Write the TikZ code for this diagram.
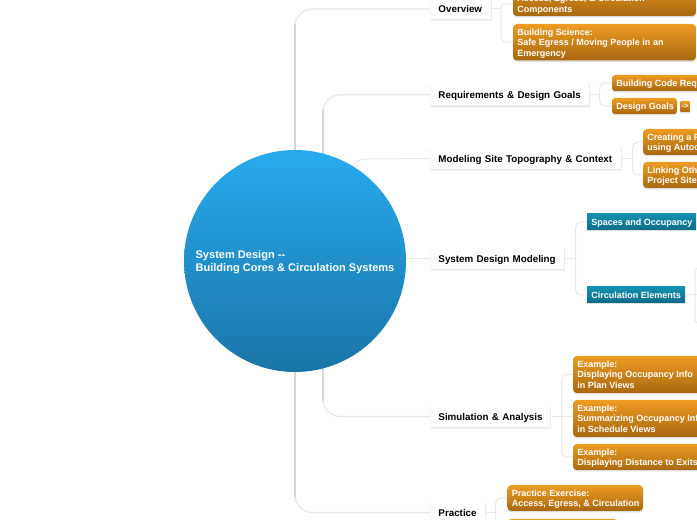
\documentclass[tikz,border=0pt]{standalone}
\usepackage{fontspec}
\setmainfont{Liberation Sans}
\usetikzlibrary{calc,backgrounds}
\definecolor{orT}{HTML}{EE9C22}
\definecolor{orB}{HTML}{A8680F}
\definecolor{teT}{HTML}{1590B0}
\definecolor{teB}{HTML}{0C6A88}
\definecolor{ciT}{HTML}{27ABEE}
\definecolor{ciB}{HTML}{1A74A6}
\definecolor{ln}{HTML}{E9E9E9}
\definecolor{lnd}{HTML}{D6D6D6}
\tikzset{
 x=0.75pt,y=-0.75pt,
 topic/.style={fill=white,inner xsep=5.4pt,inner ysep=0pt,anchor=west,align=left,
   font=\bfseries\fontsize{7.36}{8}\selectfont,text=black,text height=6.6pt,text depth=0.6pt},
 gbox/.style={font=\bfseries\fontsize{6.76}{8}\selectfont,text=white,anchor=north west,
   inner xsep=2.25pt,inner ysep=0pt,yshift=-3pt,align=left},
 conn/.style={draw=ln,line width=0.75pt,rounded corners=4pt},
 trunkl/.style={draw=ln,line width=0.9pt,rounded corners=13pt},
 trunk/.style={draw=lnd,line width=1.5pt},
}
% name, x0, y0, x1, y1, top colour, bottom colour, radius
\newcommand{\mybox}[8]{%
 \fill[black,opacity=0.13,rounded corners=#8*0.75pt] (#2,#3+1.5) rectangle (#4,#5+1.5);
 \shade[top color=#6,bottom color=#7,rounded corners=#8*0.75pt] (#2,#3) rectangle (#4,#5);
 \coordinate (#1) at (#2,{(#3+#5)/2});
 \coordinate (#1e) at (#4,{(#3+#5)/2});
}
% name, x0, y0, x1, y1, text
\newcommand{\mytopic}[6]{%
 \fill[black!4] (#2-1,#3) rectangle (#4+1,#5+2.5);
 \fill[black!8] (#2,#3+1) rectangle (#4+0.5,#5+1.5);
 \node[topic,minimum width=(#4-#2)*0.75pt,minimum height=(#5-#3)*0.75pt,text width=(#4-#2)*0.75pt-10.8pt] (#1) at (#2,{(#3+#5)/2}) {#6};
}
\begin{document}
\begin{tikzpicture}
\useasboundingbox (0,0) rectangle (697,520);
\clip (0,0) rectangle (697,520);
% central topic
\node[circle,minimum size=222*0.75pt,inner sep=0pt,top color=ciT,bottom color=ciB,text=white,align=left,text height=18.1pt,
  font=\bfseries\fontsize{8.28}{9.75}\selectfont] (hub) at (295,261) {System Design {-}{-}\\Building Cores \& Circulation Systems};
\coordinate (hubB) at ($(hub.center)+(28,0)$);
% topics
\mytopic{nA}{431}{-1}{491}{19}{Overview}
\mytopic{nB}{431}{84}{589}{105.5}{Requirements \& Design Goals}
\mytopic{nC}{431}{148}{621}{169}{Modeling Site Topography \& Context}
\mytopic{nD}{431}{248}{564}{269}{System Design Modeling}
\mytopic{nE}{431}{406}{550}{427}{Simulation \& Analysis}
\mytopic{nF}{431}{502}{485}{523}{Practice}
% orange and teal boxes
\mybox{a1}{513}{-24}{696}{16}{orT}{orB}{4}
\node[gbox] (ta1) at (514,-9) {Access, Egress, \& Circulation\\Components};
\mybox{a2}{513}{24}{696}{60.5}{orT}{orB}{4}
\node[gbox] (ta2) at (514,24.5) {Building Science:\\Safe Egress / Moving People in an\\Emergency};
\mybox{b1}{612}{75}{710}{91}{orT}{orB}{3}
\node[gbox] (tb1) at (613,75.5) {Building Code Req};
\mybox{b2}{612}{98}{677}{114}{orT}{orB}{3}
\node[gbox] (tb2) at (613,98.5) {Design Goals};
\mybox{b3}{680}{101}{690}{112}{orT}{orB}{1}
\node[font=\bfseries\fontsize{5.5}{5.5}\selectfont,text=white,inner sep=0pt] (tb3) at (685,106.5) {->};
\mybox{c1}{643}{129}{710}{155}{orT}{orB}{4}
\node[gbox] (tc1) at (644,129.5) {Creating a F\\using Autoc};
\mybox{c2}{643}{162}{710}{188}{orT}{orB}{4}
\node[gbox] (tc2) at (644,162.5) {Linking Oth\\Project Site};
\mybox{d1}{587}{214}{696}{230}{teT}{teB}{0}
\node[gbox] (td1) at (588,214.5) {Spaces and Occupancy};
\mybox{d2}{587}{287}{685}{303}{teT}{teB}{0}
\node[gbox] (td2) at (588,287.5) {Circulation Elements};
\mybox{e1}{573}{356}{710}{393}{orT}{orB}{4}
\node[gbox] (te1) at (574,356.5) {Example:\\Displaying Occupancy Info\\in Plan Views};
\mybox{e2}{573}{400}{710}{437}{orT}{orB}{4}
\node[gbox] (te2) at (574,400.5) {Example:\\Summarizing Occupancy Inf\\in Schedule Views};
\mybox{e3}{573}{444}{710}{470}{orT}{orB}{4}
\node[gbox] (te3) at (574,444.5) {Example:\\Displaying Distance to Exits};
\mybox{f1}{507.5}{485}{643}{511}{orT}{orB}{4}
\node[gbox] (tf1) at (508.5,485.5) {Practice Exercise:\\Access, Egress, \& Circulation};
\mybox{f2}{507.5}{519}{618}{540}{orT}{orB}{4}
% connector helpers
\coordinate (a1c) at (513,4);
\coordinate (jA) at ($(nA.east)+(9.5,0)$);
\coordinate (jB) at ($(nB.east)+(10,0)$);
\coordinate (jC) at ($(nC.east)+(11,0)$);
\coordinate (jD) at ($(nD.east)+(11,0)$);
\coordinate (jE) at ($(nE.east)+(11,0)$);
\coordinate (jF) at ($(nF.east)+(10,0)$);
\coordinate (fEnd) at (495,520);
\coordinate (gT) at (697,268);
\coordinate (gM) at (695,268);
\coordinate (gN) at (695,323);
\coordinate (gB) at (697,323);
\coordinate (gE) at (697,295);
\coordinate (mC) at (352,166);
\coordinate (mD) at (368,159);
\begin{scope}[on background layer]
 \fill[white] (0,0) rectangle (697,520);
 % main connectors
 \draw[trunkl] (hub.center) |- (nA.west);
 \draw[trunkl] (hubB) |- (nB.west);
 \draw[trunkl] (hubB) |- (nE.west);
 \draw[trunkl] (hub.center) |- (nF.west);
 \draw[trunk] (hub.center) -- (hub.center |- 0,24);
 \draw[trunk] (hubB) -- (hubB |- 0,110);
 \draw[trunk] (hubB) -- (hubB |- 0,401);
 \draw[trunk] (hub.center) -- (hub.center |- 0,497);
 \draw[draw=ln,line width=0.75pt] (hub.center) -- (mC) .. controls (356,161) and (360,159) .. (mD) -- (nC.west);
 \draw[draw=ln,line width=0.75pt] (hub.center |- nD.west) -- (nD.west);
 % sub connectors
 \draw[conn] (nA.east) -- (jA);
 \draw[conn,rounded corners=2.5pt] (jA) |- (a1c);
 \draw[conn] (jA) |- (a2);
 \draw[conn] (nB.east) -- (jB);
 \draw[conn] (b1) -| (jB) |- (b2);
 \draw[conn] (nC.east) -- (jC);
 \draw[conn] (c1) -| (jC) |- (c2);
 \draw[conn] (nD.east) -- (jD);
 \draw[conn] (d1) -| (jD) |- (d2);
 \draw[conn] (d2e) -- (gE);
 \draw[conn,rounded corners=2.5pt] (gT) -- (gM) -- (gN) -- (gB);
 \draw[conn] (nE.east) -- (e2 |- nE.east);
 \draw[conn] (e1) -| (jE) |- (e3);
 \draw[conn] (nF.east) -- (jF);
 \draw[conn] (f1) -| (jF) -- (jF |- fEnd);
\end{scope}
\end{tikzpicture}
\end{document}
